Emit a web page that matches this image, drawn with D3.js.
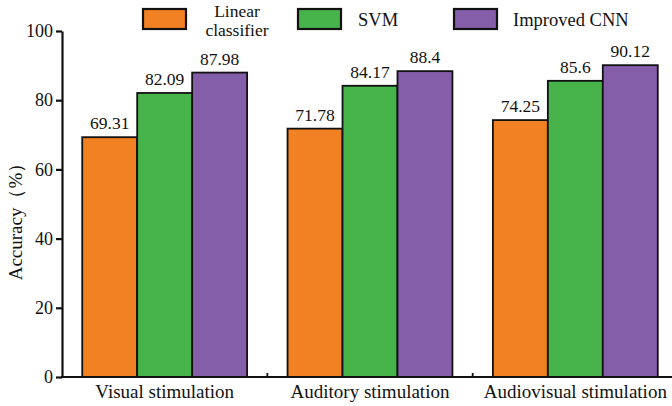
<!DOCTYPE html>
<html>
<head>
<meta charset="utf-8">
<script src="https://cdn.jsdelivr.net/npm/d3@7"></script>
<style>
  html, body { margin: 0; padding: 0; background: #fff; }
  svg { display: block; }
</style>
</head>
<body>
<script>
// Accuracy of three classifiers under three stimulation conditions
const categories = ["Visual stimulation", "Auditory stimulation", "Audiovisual stimulation"];
const seriesNames = ["Linear classifier", "SVM", "Improved CNN"];
const linearValues = [69.31, 71.78, 74.25];
const svmValues = [82.09, 84.17, 85.6];
const cnnValues = [87.98, 88.4, 90.12];
const valueLabels = [["69.31", "71.78", "74.25"], ["82.09", "84.17", "85.6"], ["87.98", "88.4", "90.12"]];
const yTicks = [0, 20, 40, 60, 80, 100];
const colors = ["#f28124", "#47b34b", "#845ea9"];

const FONT = "'Liberation Serif', 'Times New Roman', serif";
const W = 672, H = 406;
const svg = d3.select("body").append("svg").attr("width", W).attr("height", H)
  .attr("font-family", FONT);

const x0 = d3.scaleBand().domain(categories).range([62, 678]);
const bw = x0.bandwidth();
const pad = bw * 0.0985;
const x1 = d3.scaleBand().domain(seriesNames).range([pad, bw - pad]);
const y = d3.scaleLinear().domain([0, 100]).range([377, 31]);

const seriesValues = [linearValues, svmValues, cnnValues];

// bars with value labels
seriesNames.forEach((s, si) => {
  const g = svg.append("g");
  g.selectAll("rect").data(seriesValues[si]).join("rect")
    .attr("x", (d, i) => x0(categories[i]) + x1(s))
    .attr("y", d => y(d))
    .attr("width", x1.bandwidth())
    .attr("height", d => y(0) - y(d))
    .attr("fill", colors[si])
    .attr("stroke", "#111")
    .attr("stroke-width", 1.8);
  g.selectAll("text").data(seriesValues[si]).join("text")
    .attr("x", (d, i) => x0(categories[i]) + x1(s) + x1.bandwidth() / 2)
    .attr("y", d => y(d) - 8)
    .attr("text-anchor", "middle")
    .attr("font-family", FONT)
    .attr("font-size", 17.5)
    .attr("fill", "#111")
    .text((d, i) => valueLabels[si][i]);
});

// y axis
const yAxis = d3.axisLeft(y).tickValues(yTicks).tickSize(6).tickPadding(3).tickSizeOuter(0);
const ya = svg.append("g").attr("transform", "translate(62,0)").call(yAxis);
ya.attr("font-family", FONT);
ya.select(".domain").attr("stroke", "#111").attr("stroke-width", 2.2);
ya.selectAll(".tick line").attr("stroke", "#111").attr("stroke-width", 2.2);
ya.selectAll(".tick text").attr("font-size", 18).attr("font-family", FONT).attr("fill", "#111");

// x axis with separators between groups
const xa = svg.append("g").attr("transform", "translate(0,377)");
xa.append("line").attr("x1", 61).attr("x2", W).attr("y1", 0).attr("y2", 0)
  .attr("stroke", "#111").attr("stroke-width", 1.8);
xa.selectAll("line.sep").data(categories.slice(1)).join("line")
  .attr("class", "sep")
  .attr("x1", d => x0(d)).attr("x2", d => x0(d))
  .attr("y1", 0).attr("y2", -4)
  .attr("stroke", "#111").attr("stroke-width", 1.8);
xa.selectAll("text").data(categories).join("text")
  .attr("x", d => x0(d) + bw / 2)
  .attr("y", 21)
  .attr("text-anchor", "middle")
  .attr("font-family", FONT)
  .attr("font-size", 19)
  .attr("fill", "#111")
  .text(d => d);

// y axis title
svg.append("text")
  .attr("transform", "translate(22,217) rotate(-90)")
  .attr("text-anchor", "middle")
  .attr("font-family", FONT)
  .attr("font-size", 19)
  .attr("fill", "#111")
  .text("Accuracy（%）");

// legend
const legendX = [143, 298, 454];
const legend = svg.append("g");
seriesNames.forEach((s, si) => {
  legend.append("rect")
    .attr("x", legendX[si]).attr("y", 9)
    .attr("width", 43).attr("height", 20)
    .attr("fill", colors[si]).attr("stroke", "#111").attr("stroke-width", 2.2);
});
const words = seriesNames[0].split(" ");
legend.append("text").attr("x", 237).attr("y", 17).attr("text-anchor", "middle")
  .attr("font-family", FONT).attr("font-size", 17.5).attr("fill", "#111").text(words[0]);
legend.append("text").attr("x", 237).attr("y", 36).attr("text-anchor", "middle")
  .attr("font-family", FONT).attr("font-size", 17.5).attr("fill", "#111").text(words[1]);
legend.append("text").attr("x", 358).attr("y", 26)
  .attr("font-family", FONT).attr("font-size", 18.5).attr("fill", "#111").text(seriesNames[1]);
legend.append("text").attr("x", 513).attr("y", 26)
  .attr("font-family", FONT).attr("font-size", 18.5).attr("fill", "#111").text(seriesNames[2]);
</script>
</body>
</html>
